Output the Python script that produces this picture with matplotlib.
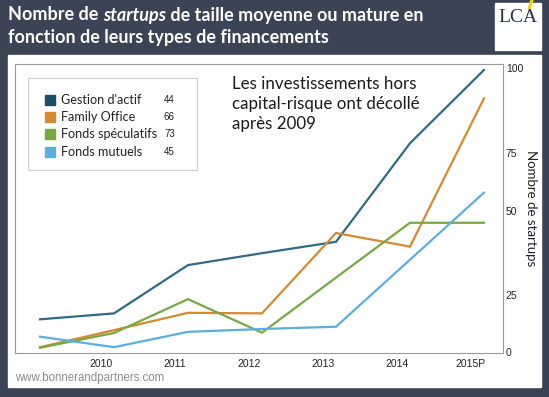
import matplotlib
matplotlib.use("Agg")
import matplotlib.pyplot as plt
from matplotlib.patches import Rectangle, Polygon

# données (2009 -> 2015P)
years = [0, 1, 2, 3, 4, 5, 6]
tick_labels = ["2010", "2011", "2012", "2013", "2014", "2015P"]
gestion = [11.5, 13.6, 30.6, 34.8, 38.8, 73.5, 99.3]
family = [1.7, 7.7, 13.8, 13.6, 41.9, 37.1, 89.3]
speculatifs = [1.5, 6.7, 18.6, 6.8, 26.2, 45.5, 45.5]
mutuels = [5.4, 1.7, 7.1, 8.1, 8.9, 32.5, 56.1]
series_names = ["Gestion d'actif", "Family Office", "Fonds spéculatifs", "Fonds mutuels"]
legend_counts = ["44", "66", "73", "45"]
y_tick_labels = ["0", "25", "50", "75", "100"]
y_tick_pos = [0, 20, 49.5, 70, 100]  # graduations irrégulières comme sur l'original

bg = "#3a4454"
line_colors = ["#2f6b86", "#d68a2e", "#78a843", "#5aafdf"]
square_colors = ["#1d4d66", "#d68a2e", "#78a843", "#5aafdf"]

W, H = 549, 397
fig = plt.figure(figsize=(W / 100, H / 100), dpi=100)
fig.patch.set_facecolor(bg)

def fx(x):
    return x / W

def fy(y):
    return 1 - y / H

# panneau blanc
fig.add_artist(Rectangle((fx(8), fy(387)), (541 - 8) / W, (387 - 55) / H,
                         transform=fig.transFigure, color="white", zorder=0))

ax = fig.add_axes([fx(15), fy(353), (503 - 15) / W, (353 - 64) / H])
ax.set_facecolor("white")
for data, c in zip([gestion, family, speculatifs, mutuels], line_colors):
    ax.plot(years, data, color=c, lw=1.6, solid_joinstyle="miter")

ax.set_xlim(-0.338, 6.257)
ax.set_ylim(-0.35, 101.4)
ax.set_xticks([i - 0.18 for i in years[1:]])
ax.set_xticklabels(tick_labels, fontfamily="Liberation Sans", fontsize=7.5, color="#222222")
ax.yaxis.tick_right()
ax.set_yticks(y_tick_pos)
ax.set_yticklabels(y_tick_labels, fontfamily="Liberation Sans", fontsize=7.5, color="#222222")
ax.tick_params(axis="x", length=0, pad=4)
ax.tick_params(axis="y", length=0, pad=2)
for s in ax.spines.values():
    s.set_color("#9a9a9a")
    s.set_linewidth(0.8)

fig.text(fx(531), fy(208), "Nombre de startups", rotation=-90, ha="center", va="center",
         fontfamily="Lato", fontsize=9.5, color="#222222")

# légende faite à la main
fig.add_artist(Rectangle((fx(28), fy(170)), (197 - 28) / W, (170 - 78) / H,
                         transform=fig.transFigure, facecolor="white",
                         edgecolor="#cfcfcf", lw=0.8, zorder=3))
rows = [100, 117, 134, 152]
for name, cnt, c, y in zip(series_names, legend_counts, square_colors, rows):
    fig.add_artist(Rectangle((fx(45), fy(y + 5)), 10 / W, 10 / H,
                             transform=fig.transFigure, color=c, zorder=4))
    fig.text(fx(61), fy(y), name, ha="left", va="center", fontfamily="Lato",
             fontsize=9.1, color="#222222", zorder=5)
    fig.text(fx(164), fy(y), cnt, ha="left", va="center", fontfamily="Liberation Sans",
             fontsize=7, color="#222222", zorder=5)

# annotation
for txt, y in zip(["Les investissements hors", "capital-risque ont décollé", "après 2009"],
                  [84, 104, 124]):
    fig.text(fx(232), fy(y), txt, ha="left", va="center", fontfamily="Lato",
             fontsize=12.2, color="#1a1a1a")

# titre avec "startups" en italique
fig.canvas.draw()
renderer = fig.canvas.get_renderer()
x0 = fx(8)
for part, style in [("Nombre de ", "normal"), ("startups", "italic"),
                    (" de taille moyenne ou mature en", "normal")]:
    t = fig.text(x0, fy(15), part, ha="left", va="center", fontfamily="Lato",
                 fontweight="bold", fontstyle=style, fontsize=13, color="white")
    bb = t.get_window_extent(renderer)
    x0 += bb.width / W
fig.text(fx(8), fy(38), "fonction de leurs types de financements", ha="left", va="center",
         fontfamily="Lato", fontweight="bold", fontsize=13, color="white")

# logo LCA
fig.add_artist(Rectangle((fx(495), fy(50)), (541 - 495) / W, (50 - 3) / H,
                         transform=fig.transFigure, color="white", zorder=2))
fig.text(fx(518), fy(17), "LCA", ha="center", va="center", fontfamily="Liberation Serif",
         fontsize=14, color="#2a3446", zorder=3)
fig.add_artist(Polygon([[fx(528), fy(9)], [fx(531), fy(0)], [fx(533), fy(0)], [fx(530), fy(9)]],
                       closed=True, transform=fig.transFigure, color="#f2d31b", zorder=3))

fig.text(fx(15), fy(378), "www.bonnerandpartners.com", ha="left", va="center",
         fontfamily="Liberation Sans", fontsize=8.3, color="#8c8c8c")

fig.savefig("out.png", dpi=100, facecolor=bg)
